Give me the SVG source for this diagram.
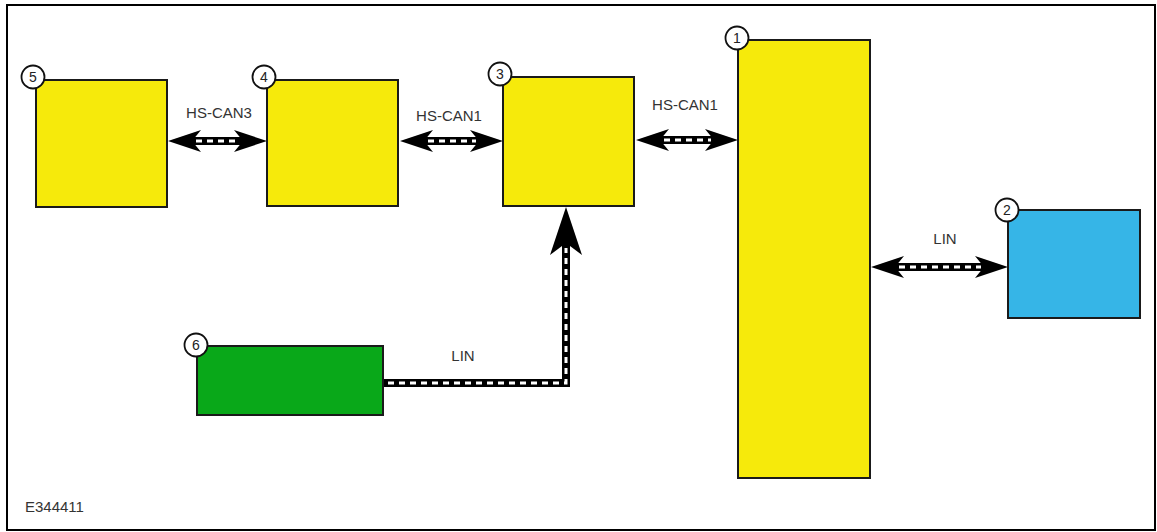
<svg xmlns="http://www.w3.org/2000/svg" xmlns:xlink="http://www.w3.org/1999/xlink" width="1157" height="532" viewBox="0 0 1157 532">
<style>
.frame{fill:#fff;stroke:#000;stroke-width:2}
.box{stroke:#1a1a1a;stroke-width:2}
.yel{fill:#F6EA0B}
.blue{fill:#36B5E7}
.green{fill:#09A819}
.badge{fill:#fff;stroke:#111;stroke-width:1.8}
.num{font-family:"Liberation Sans",Arial,sans-serif;font-size:14px;fill:#222;text-anchor:middle}
.lbl{font-family:"Liberation Sans",Arial,sans-serif;font-size:15px;fill:#333;text-anchor:middle}
.shaft{stroke:#000;stroke-width:8;fill:none}
.dash{stroke:#fff;stroke-width:3;fill:none;stroke-dasharray:6 5}
.head{fill:#000}
</style>
<defs>
<path id="h" d="M0,0 L-33,-11 L-24,0 L-33,11 Z"/>
<path id="hb" d="M0,0 L-48,-16 L-36,0 L-48,16 Z"/>
</defs>
<rect class="frame" x="7" y="5" width="1148" height="525"/>

<g id="connectors">
  <g id="c54">
    <line class="shaft" x1="190" y1="141" x2="244" y2="141"/>
    <line class="dash" x1="196" y1="141" x2="240" y2="141"/>
    <use xlink:href="#h" class="head" transform="translate(168,141) rotate(180)"/>
    <use xlink:href="#h" class="head" transform="translate(267,141)"/>
  </g>
  <g id="c43">
    <line class="shaft" x1="422" y1="141" x2="480" y2="141"/>
    <line class="dash" x1="428" y1="141" x2="476" y2="141"/>
    <use xlink:href="#h" class="head" transform="translate(400,141) rotate(180)"/>
    <use xlink:href="#h" class="head" transform="translate(503,141)"/>
  </g>
  <g id="c31">
    <line class="shaft" x1="658" y1="140" x2="715" y2="140"/>
    <line class="dash" x1="664" y1="140" x2="711" y2="140"/>
    <use xlink:href="#h" class="head" transform="translate(636,140) rotate(180)"/>
    <use xlink:href="#h" class="head" transform="translate(738,140)"/>
  </g>
  <g id="c12">
    <line class="shaft" x1="893" y1="267" x2="985" y2="267"/>
    <line class="dash" x1="899" y1="267" x2="981" y2="267"/>
    <use xlink:href="#h" class="head" transform="translate(871,267) rotate(180)"/>
    <use xlink:href="#h" class="head" transform="translate(1008,267)"/>
  </g>
  <g id="c63">
    <polyline class="shaft" points="383,383 566,383 566,242"/>
    <polyline class="dash" points="388,383 566,383 566,248"/>
    <use xlink:href="#hb" class="head" transform="translate(566,207) rotate(-90)"/>
  </g>
</g>

<g id="labels">
  <text class="lbl" x="219" y="118">HS-CAN3</text>
  <text class="lbl" x="449" y="121">HS-CAN1</text>
  <text class="lbl" x="685" y="110">HS-CAN1</text>
  <text class="lbl" x="945" y="244">LIN</text>
  <text class="lbl" x="463" y="361">LIN</text>
</g>

<g id="node5">
  <rect class="box yel" x="36" y="80" width="131" height="127"/>
  <circle class="badge" cx="33" cy="77" r="11.5"/>
  <text class="num" x="33" y="82">5</text>
</g>
<g id="node4">
  <rect class="box yel" x="267" y="80" width="131" height="126"/>
  <circle class="badge" cx="264" cy="77" r="11.5"/>
  <text class="num" x="264" y="82">4</text>
</g>
<g id="node3">
  <rect class="box yel" x="503" y="77" width="131" height="129"/>
  <circle class="badge" cx="500" cy="74" r="11.5"/>
  <text class="num" x="500" y="79">3</text>
</g>
<g id="node1">
  <rect class="box yel" x="738" y="40" width="132" height="438"/>
  <circle class="badge" cx="737" cy="38" r="11.5"/>
  <text class="num" x="737" y="43">1</text>
</g>
<g id="node2">
  <rect class="box blue" x="1008" y="210" width="132" height="108"/>
  <circle class="badge" cx="1007" cy="210" r="11.5"/>
  <text class="num" x="1007" y="215">2</text>
</g>
<g id="node6">
  <rect class="box green" x="197" y="346" width="186" height="69"/>
  <circle class="badge" cx="196" cy="345" r="11.5"/>
  <text class="num" x="196" y="350">6</text>
</g>

<text class="lbl" x="25" y="512" style="text-anchor:start">E344411</text>
</svg>
